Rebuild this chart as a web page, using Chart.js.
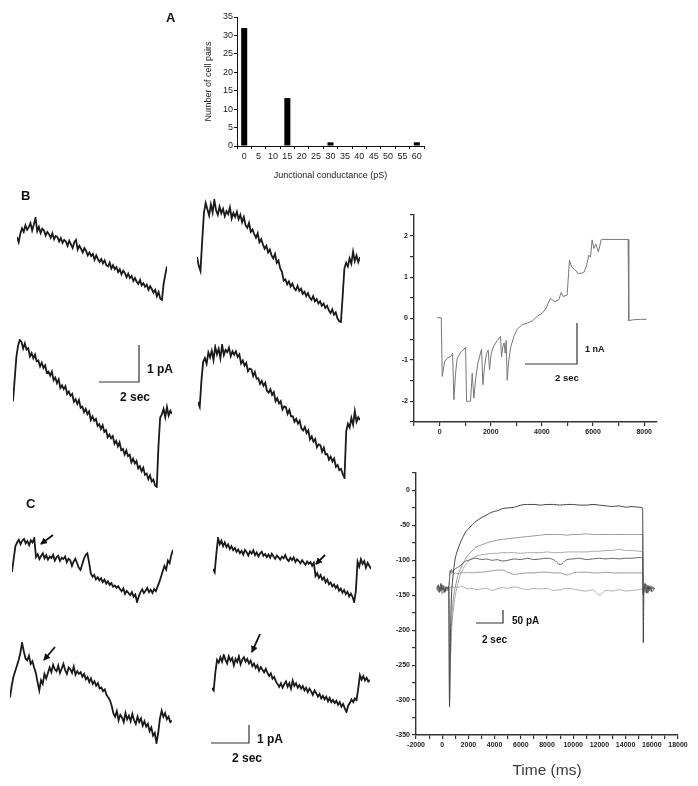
<!DOCTYPE html>
<html lang="en">
<head>
<meta charset="UTF-8">
<title>Junctional conductance</title>
<script src="https://cdn.jsdelivr.net/npm/chart.js"></script>
<style>
  body { margin: 0; background: #fff; }
  #page { position: relative; width: 698px; height: 786px; overflow: hidden; }
  #page canvas { position: absolute; }
  #notes { position: absolute; left: 0; top: 0; }
</style>
</head>
<body>
<div id="page">
  <canvas id="histA" width="232" height="173" style="left:200px;top:10px"></canvas>
  <canvas id="b1" style="left:15px;top:216px"></canvas>
  <canvas id="b2" style="left:195px;top:198px"></canvas>
  <canvas id="b3" style="left:11px;top:338px"></canvas>
  <canvas id="b4" style="left:196px;top:343px"></canvas>
  <canvas id="bStep" width="290" height="245" style="left:380px;top:200px"></canvas>
  <canvas id="c1" style="left:10px;top:536px"></canvas>
  <canvas id="c2" style="left:211px;top:536px"></canvas>
  <canvas id="c3" style="left:8px;top:641px"></canvas>
  <canvas id="c4" style="left:210px;top:653px"></canvas>
  <canvas id="cRamp" width="310" height="331" style="left:380px;top:455px"></canvas>

  <svg id="notes" width="698" height="786">
    <defs>
      <marker id="head" markerWidth="7" markerHeight="7" refX="6" refY="3.5" orient="auto" markerUnits="userSpaceOnUse">
        <path d="M0,0 L7,3.5 L0,7 z" fill="#111"/>
      </marker>
    </defs>
    <g font-family="'Liberation Sans', Arial, sans-serif" font-weight="bold" fill="#111">
      <text x="166" y="22" font-size="13">A</text>
      <text x="21" y="200" font-size="13">B</text>
      <text x="26" y="508" font-size="13">C</text>
      <text x="147" y="373" font-size="12">1 pA</text>
      <text x="120" y="401" font-size="12">2 sec</text>
      <text x="585" y="352" font-size="9">1 nA</text>
      <text x="555" y="381" font-size="9.5">2 sec</text>
      <text x="512" y="624" font-size="10">50 pA</text>
      <text x="482" y="643" font-size="10">2 sec</text>
      <text x="257" y="743" font-size="12">1 pA</text>
      <text x="232" y="762" font-size="12">2 sec</text>
    </g>
    <g stroke="#333" stroke-width="1.2" fill="none">
      <polyline points="99,382 139,382 139,345"/>
      <polyline points="525,364 577,364 577,323"/>
      <polyline points="476,623 503,623 503,610"/>
      <polyline points="211,743 249,743 249,725"/>
    </g>
    <g stroke="#111" stroke-width="1.8" marker-end="url(#head)">
      <line x1="53" y1="535" x2="41" y2="544"/>
      <line x1="325" y1="555" x2="316" y2="564"/>
      <line x1="55" y1="647" x2="44" y2="660"/>
      <line x1="260" y1="634" x2="252" y2="652"/>
    </g>
  </svg>
</div>
<script>
// A: histogram
const conductanceLabels = ['0','5','10','15','20','25','30','35','40','45','50','55','60'];
const cellPairCounts = [32,0,0,13,0,0,1,0,0,0,0,0,1];

// B: ramp responses (pA), left column / right column
const bTraceTopLeft = [1.72,1.58,1.82,1.96,1.86,2.04,1.92,1.99,2.1,1.9,
  2.06,2.24,1.88,2.0,1.83,1.95,1.9,1.76,1.86,1.8,
  1.7,1.82,1.66,1.75,1.72,1.6,1.69,1.56,1.64,1.6,
  1.48,1.62,1.52,1.42,1.58,1.64,1.38,1.48,1.4,1.3,
  1.42,1.34,1.22,1.3,1.2,1.26,1.1,1.22,1.12,1.04,
  1.12,1.0,1.08,0.95,0.92,1.02,0.86,0.95,0.84,0.9,
  0.76,0.84,0.7,0.8,0.74,0.62,0.72,0.6,0.66,0.52,
  0.6,0.5,0.44,0.55,0.4,0.46,0.36,0.42,0.28,0.38,
  0.3,0.2,0.28,0.1,0.22,0.04,0.0,0.44,0.7,0.92];
const bTraceTopRight = [1.76,1.52,1.38,2.2,2.95,3.22,
  3.05,2.88,3.18,2.96,3.3,3.02,2.9,3.12,2.94,3.06,2.86,3.0,2.92,3.1,2.8,2.95,2.84,2.98,2.78,2.9,
  2.7,2.84,2.62,2.55,2.68,2.44,2.5,2.38,2.28,2.4,2.16,2.24,2.1,1.98,2.06,1.88,1.96,1.8,1.72,1.84,1.6,1.66,1.45,1.36,1.12,
  1.15,1.02,1.1,0.96,1.04,0.92,0.86,0.98,0.84,0.9,0.76,0.82,0.7,0.78,0.66,0.6,0.7,0.56,0.62,0.5,0.56,0.44,0.5,0.38,0.44,0.32,0.24,0.34,0.2,0.26,0.1,0.02,
  0.0,0.7,1.45,1.6,1.5,1.72,1.58,1.9,1.65,1.8,1.62,1.75];
const bTraceBottomLeft = [2.3,2.9,3.5,3.8,3.95,
  3.9,3.72,3.86,3.69,3.73,3.51,3.6,3.46,3.56,3.38,3.4,3.24,3.34,3.2,3.27,
  3.07,3.1,2.99,3.1,2.87,2.94,2.79,2.89,2.66,2.73,2.63,2.71,2.5,2.57,2.45,
  2.5,2.29,2.36,2.23,2.34,2.13,2.16,2.01,2.1,1.96,2.03,1.8,1.9,1.78,1.83,
  1.64,1.69,1.56,1.66,1.48,1.53,1.34,1.41,1.31,1.37,1.16,1.24,1.09,1.2,0.99,
  1.02,0.87,0.98,0.83,0.87,0.66,0.76,0.63,0.7,0.5,0.56,0.42,0.52,0.33,0.36,
  0.21,0.31,0.15,0.2,0.04,0.0,
  1.1,1.86,1.95,2.1,1.88,2.15,1.92,2.05,1.97];
const bTraceBottomRight = [2.03,1.9,2.6,3.1,
  3.2,3.05,3.35,3.22,3.4,3.15,3.5,3.3,3.45,3.2,3.55,3.28,3.42,3.36,3.48,3.25,3.38,
  3.29,3.38,3.23,3.3,3.06,3.14,3.0,3.07,2.85,2.92,2.9,2.72,2.83,2.65,2.66,2.51,2.59,2.46,2.54,2.33,
  2.28,2.37,2.22,2.29,2.05,2.13,1.99,2.05,1.83,1.91,1.89,1.71,1.82,1.64,1.65,1.5,1.58,1.45,1.53,1.32,
  1.27,1.36,1.2,1.27,1.03,1.11,0.97,1.04,0.82,0.9,0.88,0.7,0.81,0.63,0.64,0.49,0.57,0.44,0.52,0.3,
  0.35,0.21,0.24,0.1,
  0.0,1.25,1.45,1.35,1.6,1.42,1.78,1.5,1.62,1.55];

// B right: current during ramp (nA) vs time (ms)
const bStepTimeMs = [-90,65,104,195,300,430,508,560,625,690,846,1016,1055,1211,1276,1341,1419,1497,1641,1693,
  1758,1836,1901,1953,2018,2122,2253,2383,2422,2474,2526,2565,2604,2643,2695,2773,2904,3034,3229,3424,
  3620,3815,4010,4141,4232,4336,4440,4531,4661,4753,4831,4987,5078,5156,5273,5443,5638,5742,5833,5898,
  5964,6029,6107,6211,6315,6367,7370,7396,7591,7852,8086];
const bStepCurrentNA = [0.02,0.02,-1.4,-1.04,-0.96,-0.92,-0.84,-1.96,-1.32,-0.96,-0.8,-0.7,-2.0,-2.0,-1.32,-1.92,-1.4,-1.08,-0.74,-1.6,
  -1.16,-0.84,-0.76,-1.24,-0.84,-0.66,-0.53,-0.43,-0.93,-0.67,-0.59,-0.84,-0.53,-1.49,-1.08,-0.71,-0.43,-0.26,-0.15,-0.11,
  -0.06,0.05,0.13,0.22,0.35,0.49,0.43,0.41,0.45,0.63,0.53,0.57,1.41,1.25,1.19,1.08,1.11,1.27,1.53,1.48,
  1.9,1.69,1.8,1.61,1.9,1.91,1.91,-0.05,-0.03,-0.02,-0.02];
const bStepXTicks = [-1000,0,1000,2000,3000,4000,5000,6000,7000,8000];
const bStepYTicks = [-2.5,-2,-1.5,-1,-0.5,0,0.5,1,1.5,2,2.5];

// C: responses with arrows (pA)
const cTraceTopLeft = [1.67,2.4,3.1,3.3,
  3.45,3.2,3.4,3.5,3.25,3.38,3.15,3.42,3.3,3.55,
  2.5,2.65,2.38,2.55,2.7,2.42,2.6,2.35,2.52,2.44,2.62,2.3,2.48,2.56,2.28,2.45,2.38,2.52,2.2,2.4,2.32,2.0,2.25,2.4,2.15,
  1.9,1.78,2.1,2.4,2.6,
  2.7,2.2,1.6,
  1.4,1.5,1.25,1.38,1.2,1.32,1.1,1.24,1.02,1.15,0.95,1.05,
  0.85,0.92,0.78,0.88,0.72,0.6,0.75,0.45,
  0.62,0.5,0.38,0.55,0.3,0.42,0.0,
  0.3,0.55,0.7,0.5,0.62,0.78,0.55,0.68,0.5,0.72,0.6,
  0.85,1.1,1.4,1.7,2.0,1.8,2.3,2.15,2.6,2.9];
const cTraceTopRight = [1.78,1.6,2.6,
  3.44,3.1,3.3,3.0,3.2,2.95,3.1,2.85,3.0,2.78,
  2.9,2.7,2.82,2.62,2.75,2.55,2.8,2.68,2.5,2.72,2.6,2.78,2.52,2.66,2.45,2.6,2.7,2.48,2.58,2.42,
  2.55,2.38,2.6,2.45,2.32,2.5,2.4,2.28,2.44,2.35,2.52,2.3,2.2,2.38,2.25,2.4,2.15,2.3,2.2,2.08,2.25,2.12,2.0,2.18,2.05,2.15,1.95,2.1,
  1.4,1.55,1.3,1.45,1.2,1.32,1.05,1.2,0.95,1.05,0.83,
  0.95,0.75,0.88,0.6,0.72,0.5,0.65,0.42,0.55,0.3,0.45,0.28,0.0,
  0.6,2.17,1.9,2.3,2.05,2.2,1.85,2.1,1.95,1.78];
const cTraceBottomLeft = [2.55,3.2,3.7,4.0,4.3,4.6,5.0,5.55,
  5.1,4.7,4.6,4.85,4.4,4.55,4.2,3.9,3.4,2.94,
  3.5,3.3,3.85,3.6,3.9,
  4.2,3.95,4.35,4.1,4.0,4.3,3.9,4.15,4.4,4.05,3.85,4.2,4.1,3.9,4.25,3.8,4.0,3.85,3.95,
  3.7,3.85,3.55,3.67,3.4,3.6,3.3,3.45,3.2,3.35,3.05,3.1,
  2.9,3.0,2.7,2.55,2.4,2.1,1.67,
  1.5,1.8,1.3,1.6,1.45,1.2,1.7,1.35,1.55,1.25,1.65,1.3,1.1,1.5,1.2,1.4,1.0,1.25,0.95,
  1.1,0.7,0.9,0.45,0.6,0.05,
  0.6,1.4,1.83,1.5,1.7,1.35,1.5,1.2,1.28];
const cTraceBottomRight = [1.33,1.2,2.2,2.9,
  2.75,3.05,2.8,3.17,2.9,2.7,3.1,2.85,3.0,2.6,2.95,2.78,3.1,2.65,2.9,3.05,2.8,2.95,
  2.7,2.85,2.55,2.7,2.45,2.6,2.3,2.5,2.35,2.2,2.4,2.17,
  2.0,2.15,1.85,1.95,1.7,1.55,1.4,
  1.6,1.35,1.55,1.7,1.4,1.6,1.3,1.75,1.45,1.6,1.35,1.5,
  1.3,1.45,1.2,1.35,1.1,1.3,1.15,0.95,1.2,1.05,
  0.85,1.0,0.75,0.9,0.7,0.85,0.6,0.78,0.55,0.67,
  0.5,0.62,0.4,0.55,0.3,0.45,0.2,0.0,
  0.35,0.5,0.7,0.55,0.75,0.67,1.3,
  2.05,1.8,2.0,1.75,1.9,1.7,1.78];

// C right: six current traces (pA) on a shared time base (ms)
const cTimeMs = [-400,-300,-200,-100,0,100,200,300,400,500,
  560,600,650,700,800,900,1000,1200,1400,1600,
  1800,2000,2300,2600,3000,3400,3800,4200,4600,5000,
  5500,6000,6500,7000,7500,8000,8500,9000,9500,10000,
  10500,11000,11500,12000,12500,13000,13500,14000,14500,15000,
  15300,15350,15400,15500,15600,15700,15800,15900,16000,16200];
const cCurrent1 = [-140,-136,-146,-133,-142,-138,-145,-139,-141,-137,
  -310,-250,-190,-155,-128,-110,-97,-84,-74,-66,
  -59,-55,-49,-44,-39,-35,-31,-29,-26,-25,
  -24,-21,-20,-20,-21,-20,-20,-21,-20,-20,
  -21,-21,-20,-21,-22,-23,-22,-24,-23,-24,
  -25,-218,-140,-133,-147,-136,-143,-138,-145,-140];
const cCurrent2 = [-141,-145,-137,-140,-148,-136,-142,-139,-144,-138,
  -300,-270,-225,-195,-165,-148,-138,-122,-112,-104,
  -97,-92,-86,-81,-78,-75,-73,-71,-70,-69,
  -68,-67,-66,-65,-64,-63,-63,-63,-64,-63,
  -63,-62,-63,-63,-63,-63,-63,-63,-63,-63,
  -63,-150,-138,-146,-134,-142,-139,-144,-137,-141];
const cCurrent3 = [-139,-134,-143,-140,-136,-147,-141,-137,-143,-140,
  -235,-260,-230,-205,-180,-163,-150,-133,-120,-112,
  -106,-101,-97,-94,-92,-91,-90,-90,-89,-89,
  -89,-90,-89,-89,-89,-88,-89,-89,-88,-88,
  -88,-88,-87,-87,-86,-86,-84,-86,-86,-87,
  -87,-145,-135,-141,-146,-138,-143,-136,-140,-139];
const cCurrent4 = [-142,-137,-140,-144,-135,-141,-146,-138,-140,-136,
  -128,-116,-118,-113,-117,-114,-112,-110,-107,-104,
  -101,-100,-98,-97,-99,-98,-100,-99,-101,-100,
  -98,-99,-97,-99,-98,-97,-99,-106,-99,-98,
  -97,-99,-98,-97,-98,-97,-98,-97,-97,-96,
  -97,-150,-143,-136,-140,-147,-137,-142,-139,-141];
const cCurrent5 = [-137,-141,-145,-139,-142,-136,-140,-144,-138,-141,
  -125,-114,-116,-119,-117,-119,-118,-119,-118,-117,
  -118,-117,-118,-117,-117,-116,-115,-114,-114,-117,
  -120,-119,-118,-118,-117,-117,-118,-118,-121,-118,
  -117,-117,-118,-118,-117,-118,-118,-118,-118,-118,
  -118,-148,-140,-135,-144,-138,-142,-137,-141,-140];
const cCurrent6 = [-140,-144,-138,-142,-137,-141,-145,-139,-143,-140,
  -142,-138,-139,-137,-138,-139,-138,-139,-137,-138,
  -140,-141,-140,-142,-141,-140,-143,-141,-139,-140,
  -138,-140,-142,-140,-141,-140,-143,-142,-140,-141,
  -143,-144,-142,-150,-143,-144,-142,-144,-143,-142,
  -141,-146,-137,-143,-139,-145,-136,-141,-138,-140];
const cRampXTicks = [-2000,-1000,0,1000,2000,3000,4000,5000,6000,7000,8000,9000,10000,
  11000,12000,13000,14000,15000,16000,17000,18000];
const cRampYTicks = [-350,-325,-300,-275,-250,-225,-200,-175,-150,-125,-100,-75,-50,-25,0,25];

const sansFont = "'Liberation Sans', Arial, sans-serif";

// histogram A
new Chart(document.getElementById('histA'), {
  type: 'bar',
  data: {
    labels: conductanceLabels,
    datasets: [{
      data: cellPairCounts,
      backgroundColor: '#000',
      barPercentage: 0.42,
      categoryPercentage: 1
    }]
  },
  options: {
    responsive: false,
    animation: false,
    layout: { padding: { top: 7, right: 8, left: 0, bottom: 0 } },
    plugins: { legend: { display: false }, tooltip: { enabled: false } },
    scales: {
      x: {
        grid: { drawOnChartArea: false, tickLength: 3, color: '#111', offset: true },
        border: { color: '#111' },
        ticks: { color: '#222', font: { family: sansFont, size: 9 }, padding: 2, maxRotation: 0, autoSkip: false },
        title: { display: true, text: 'Junctional conductance (pS)', color: '#222',
                 font: { family: sansFont, size: 9 }, padding: { top: 0, bottom: 2 } },
        afterFit: function(s) { s.height = 37; }
      },
      y: {
        min: 0, max: 35,
        grid: { drawOnChartArea: false, tickLength: 3, color: '#111' },
        border: { color: '#111' },
        ticks: { stepSize: 5, color: '#222', font: { family: sansFont, size: 9 }, padding: 1 },
        title: { display: true, text: 'Number of cell pairs', color: '#222',
                 font: { family: sansFont, size: 9 }, padding: { top: 3, bottom: 0 } },
        afterFit: function(s) { s.width = 37; }
      }
    }
  }
});

// a bare noisy trace without axes
function drawTrace(id, values, w, h) {
  const el = document.getElementById(id);
  el.width = w + 4;
  el.height = h + 4;
  new Chart(el, {
    type: 'line',
    data: {
      datasets: [{
        data: values.map(function(v, i) { return { x: i, y: v }; }),
        borderColor: '#1a1a1a',
        borderWidth: 1.8,
        pointRadius: 0,
        tension: 0
      }]
    },
    options: {
      responsive: false,
      animation: false,
      layout: { padding: 2 },
      plugins: { legend: { display: false }, tooltip: { enabled: false } },
      scales: {
        x: { type: 'linear', display: false, min: 0, max: values.length - 1 },
        y: { display: false, bounds: 'data' }
      }
    }
  });
}

drawTrace('b1', bTraceTopLeft, 150, 82);
drawTrace('b2', bTraceTopRight, 163, 122);
drawTrace('b3', bTraceBottomLeft, 159, 147);
drawTrace('b4', bTraceBottomRight, 162, 133);
drawTrace('c1', cTraceTopLeft, 161, 64);
drawTrace('c2', cTraceTopRight, 158, 64);
drawTrace('c3', cTraceBottomLeft, 162, 100);
drawTrace('c4', cTraceBottomRight, 158, 57);

// axis with fixed tick list, only every `major` step labelled
function fixedAxis(min, max, tickList, major, size, horizontal) {
  return {
    type: 'linear', min: min, max: max,
    grid: { drawOnChartArea: false, tickLength: 4, color: '#333', lineWidth: 1.2 },
    border: { color: '#333', width: 1.4 },
    afterBuildTicks: function(s) {
      s.ticks = tickList.map(function(v) { return { value: v }; });
    },
    ticks: {
      color: '#222', padding: 2, maxRotation: 0, autoSkip: false,
      font: { family: sansFont, size: 7, weight: 'bold' },
      callback: function(v) {
        const r = v / major;
        return Math.abs(r - Math.round(r)) < 1e-6 ? String(v) : '';
      }
    },
    afterFit: function(s) {
      if (horizontal) s.height = size; else s.width = size;
    }
  };
}

// B right: ramp current
const bStepX = fixedAxis(-1000, 8500, bStepXTicks, 2000, 23, true);
bStepX.ticks.callback = function(v) { return v >= 0 && v % 2000 === 0 ? String(v) : ''; };
new Chart(document.getElementById('bStep'), {
  type: 'line',
  data: {
    datasets: [{
      data: bStepTimeMs.map(function(t, i) { return { x: t, y: bStepCurrentNA[i] }; }),
      borderColor: '#777',
      borderWidth: 1,
      pointRadius: 0,
      tension: 0
    }]
  },
  options: {
    responsive: false,
    animation: false,
    layout: { padding: { top: 15, right: 13, left: 0, bottom: 0 } },
    plugins: { legend: { display: false }, tooltip: { enabled: false } },
    scales: {
      x: bStepX,
      y: fixedAxis(-2.5, 2.5, bStepYTicks, 1, 34, false)
    }
  }
});

// C right: six traces
const cSeries = [
  { values: cCurrent1, color: '#444' },
  { values: cCurrent4, color: '#666' },
  { values: cCurrent2, color: '#999' },
  { values: cCurrent5, color: '#9a9a9a' },
  { values: cCurrent3, color: '#aaa' },
  { values: cCurrent6, color: '#b0b0b0' }
];
const cRampX = fixedAxis(-2000, 18000, cRampXTicks, 2000, 51, true);
cRampX.title = { display: true, text: 'Time (ms)', color: '#3a3a3a',
                 font: { family: sansFont, size: 15.5 }, padding: { top: 0, bottom: 6 } };
new Chart(document.getElementById('cRamp'), {
  type: 'line',
  data: {
    datasets: cSeries.map(function(s) {
      return {
        data: cTimeMs.map(function(t, i) { return { x: t, y: s.values[i] }; }),
        borderColor: s.color,
        borderWidth: 1,
        pointRadius: 0,
        cubicInterpolationMode: 'monotone'
      };
    })
  },
  options: {
    responsive: false,
    animation: false,
    layout: { padding: { top: 18, right: 12, left: 0, bottom: 0 } },
    plugins: { legend: { display: false }, tooltip: { enabled: false } },
    scales: {
      x: cRampX,
      y: fixedAxis(-350, 25, cRampYTicks, 50, 36, false)
    }
  }
});
</script>
</body>
</html>
